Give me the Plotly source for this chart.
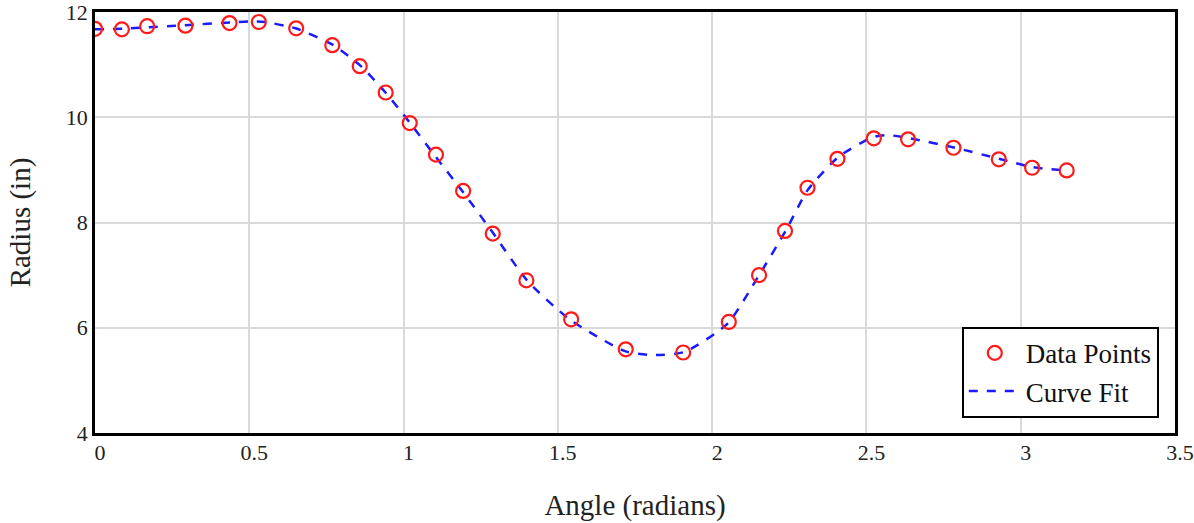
import plotly.graph_objects as go

# Data points (angle in radians, radius in inches)
data_angle = [0.0, 0.087, 0.169, 0.293, 0.436, 0.531, 0.652, 0.769, 0.858, 0.942,
              1.020, 1.105, 1.193, 1.289, 1.398, 1.543, 1.720, 1.906, 2.054, 2.152,
              2.236, 2.309, 2.406, 2.524, 2.635, 2.782, 2.929, 3.037, 3.149]
data_radius = [11.68, 11.67, 11.73, 11.74, 11.79, 11.81, 11.69, 11.37, 10.97, 10.47,
               9.89, 9.29, 8.60, 7.79, 6.90, 6.16, 5.59, 5.53, 6.11, 7.00,
               7.84, 8.66, 9.21, 9.60, 9.58, 9.42, 9.20, 9.04, 8.99]

# Curve fit
fit_angle = [0.0, 0.09, 0.17, 0.29, 0.44, 0.50, 0.55, 0.65, 0.77, 0.86, 0.94, 1.02,
             1.10, 1.19, 1.29, 1.40, 1.54, 1.72, 1.81, 1.91, 2.05, 2.15, 2.24, 2.31,
             2.41, 2.52, 2.57, 2.64, 2.78, 2.93, 3.04, 3.14]
fit_radius = [11.67, 11.68, 11.71, 11.75, 11.80, 11.82, 11.81, 11.69, 11.38, 10.98,
              10.48, 9.90, 9.28, 8.60, 7.80, 6.90, 6.15, 5.55, 5.48, 5.54, 6.08, 6.98,
              7.86, 8.62, 9.25, 9.62, 9.66, 9.60, 9.43, 9.21, 9.05, 8.99]

x_ticks = [0, 0.5, 1, 1.5, 2, 2.5, 3, 3.5]
y_ticks = [4, 6, 8, 10, 12]

FONT = "Liberation Serif"

fig = go.Figure()
fig.add_trace(go.Scatter(
    x=fit_angle, y=fit_radius, mode="lines", name="Curve Fit",
    line=dict(color="#1a1aff", width=2.5, dash="dash", shape="spline", smoothing=0.6),
))
fig.add_trace(go.Scatter(
    x=data_angle, y=data_radius, mode="markers", name="Data Points",
    marker=dict(symbol="circle-open", size=14, color="#ff1a1a", line=dict(width=2.2, color="#ff1a1a")),
))

fig.update_layout(
    width=1194, height=523,
    margin=dict(l=95, r=19, t=12, b=90),
    paper_bgcolor="white", plot_bgcolor="white",
    font=dict(family=FONT, color="#222222", size=22),
    showlegend=True,
    legend=dict(
        x=0.985, y=0.036, xanchor="right", yanchor="bottom",
        bgcolor="white", bordercolor="black", borderwidth=2,
        font=dict(family=FONT, size=27, color="#111111"),
        traceorder="reversed",
        itemwidth=52,
        tracegroupgap=0,
    ),
    xaxis=dict(
        range=[0, 3.5], tickvals=x_ticks, ticktext=[str(v) for v in x_ticks],
        showgrid=True, gridcolor="#d9d9d9", gridwidth=1.5,
        showline=True, linecolor="black", linewidth=2.5, mirror=True,
        ticks="", zeroline=False, ticklabelshift=5, ticklabelstandoff=-2,
        ticklabeloverflow="allow",
        automargin=False,
        tickfont=dict(family=FONT, size=22),
        title=dict(text="Angle (radians)", font=dict(family=FONT, size=29), standoff=31),
    ),
    yaxis=dict(
        range=[4, 12], tickvals=y_ticks, ticktext=[str(v) for v in y_ticks],
        showgrid=True, gridcolor="#d9d9d9", gridwidth=1.5,
        showline=True, linecolor="black", linewidth=2.5, mirror=True,
        ticks="", zeroline=False, ticklabelstandoff=0,
        ticklabeloverflow="allow",
        automargin=False,
        tickfont=dict(family=FONT, size=22),
        title=dict(text="Radius (in)", font=dict(family=FONT, size=29), standoff=27),
    ),
)

fig.write_html("out.html")
